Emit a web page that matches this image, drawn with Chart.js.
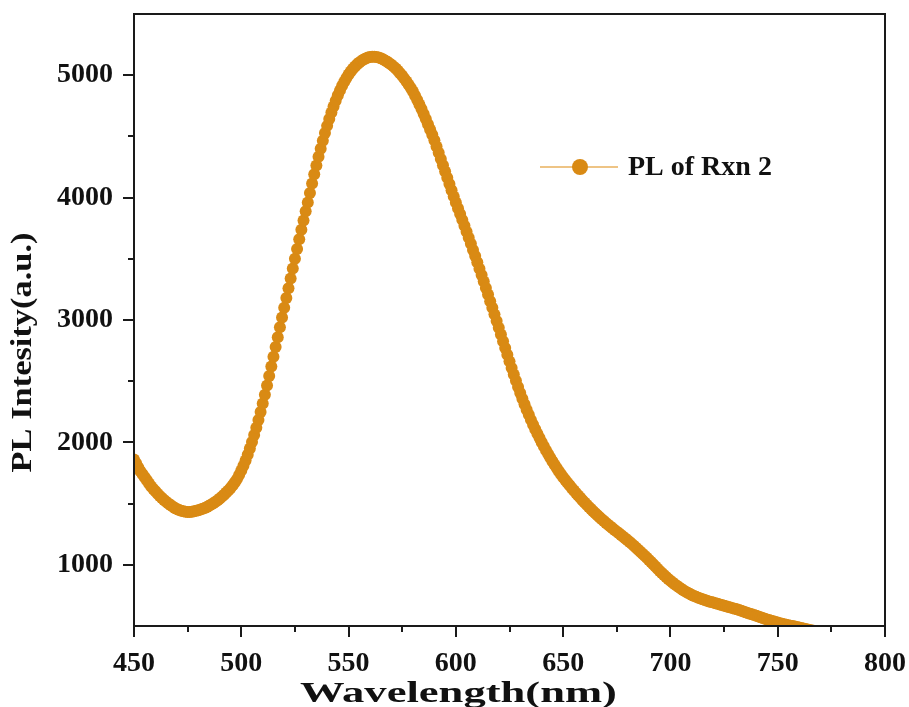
<!DOCTYPE html>
<html>
<head>
<meta charset="utf-8">
<script src="https://cdn.jsdelivr.net/npm/chart.js@4.4.1/dist/chart.umd.min.js"></script>
<style>
  html, body { margin: 0; padding: 0; background: #fff; }
  #plChart { display: block; }
</style>
</head>
<body>
<canvas id="plChart" width="909" height="707"></canvas>
<script>
/* PL spectrum */

const seriesLabel = 'PL of Rxn 2';
const xTitle = 'Wavelength(nm)';
const yTitle = 'PL Intesity(a.u.)';

const xTicks = [450, 500, 550, 600, 650, 700, 750, 800];
const yTicks = [1000, 2000, 3000, 4000, 5000];

const wavelengths = [
    450, 451, 452, 453, 454, 455, 456, 457, 458, 459,
    460, 461, 462, 463, 464, 465, 466, 467, 468, 469,
    470, 471, 472, 473, 474, 475, 476, 477, 478, 479,
    480, 481, 482, 483, 484, 485, 486, 487, 488, 489,
    490, 491, 492, 493, 494, 495, 496, 497, 498, 499,
    500, 501, 502, 503, 504, 505, 506, 507, 508, 509,
    510, 511, 512, 513, 514, 515, 516, 517, 518, 519,
    520, 521, 522, 523, 524, 525, 526, 527, 528, 529,
    530, 531, 532, 533, 534, 535, 536, 537, 538, 539,
    540, 541, 542, 543, 544, 545, 546, 547, 548, 549,
    550, 551, 552, 553, 554, 555, 556, 557, 558, 559,
    560, 561, 562, 563, 564, 565, 566, 567, 568, 569,
    570, 571, 572, 573, 574, 575, 576, 577, 578, 579,
    580, 581, 582, 583, 584, 585, 586, 587, 588, 589,
    590, 591, 592, 593, 594, 595, 596, 597, 598, 599,
    600, 601, 602, 603, 604, 605, 606, 607, 608, 609,
    610, 611, 612, 613, 614, 615, 616, 617, 618, 619,
    620, 621, 622, 623, 624, 625, 626, 627, 628, 629,
    630, 631, 632, 633, 634, 635, 636, 637, 638, 639,
    640, 641, 642, 643, 644, 645, 646, 647, 648, 649,
    650, 651, 652, 653, 654, 655, 656, 657, 658, 659,
    660, 661, 662, 663, 664, 665, 666, 667, 668, 669,
    670, 671, 672, 673, 674, 675, 676, 677, 678, 679,
    680, 681, 682, 683, 684, 685, 686, 687, 688, 689,
    690, 691, 692, 693, 694, 695, 696, 697, 698, 699,
    700, 701, 702, 703, 704, 705, 706, 707, 708, 709,
    710, 711, 712, 713, 714, 715, 716, 717, 718, 719,
    720, 721, 722, 723, 724, 725, 726, 727, 728, 729,
    730, 731, 732, 733, 734, 735, 736, 737, 738, 739,
    740, 741, 742, 743, 744, 745, 746, 747, 748, 749,
    750, 751, 752, 753, 754, 755, 756, 757, 758, 759,
    760, 761, 762, 763, 764, 765, 766, 767, 768, 769,
    770
];

const intensity = [
    1860, 1830, 1795, 1765, 1740, 1715, 1690, 1665, 1640, 1620,
    1600, 1580, 1562, 1545, 1530, 1515, 1500, 1488, 1476, 1465,
    1456, 1448, 1442, 1437, 1434, 1432, 1432, 1434, 1437, 1441,
    1446, 1452, 1458, 1465, 1473, 1482, 1492, 1503, 1515, 1528,
    1542, 1557, 1573, 1590, 1608, 1628, 1650, 1674, 1700, 1734,
    1770, 1810, 1853, 1900, 1950, 2003, 2060, 2120, 2183, 2249,
    2318, 2390, 2465, 2542, 2620, 2700, 2780, 2860, 2940, 3020,
    3100, 3180, 3260, 3340, 3420, 3500, 3580, 3659, 3737, 3813,
    3888, 3960, 4038, 4115, 4190, 4263, 4333, 4400, 4465, 4527,
    4586, 4642, 4695, 4745, 4792, 4836, 4876, 4913, 4947, 4978,
    5006, 5031, 5053, 5072, 5089, 5104, 5117, 5128, 5137, 5144,
    5148, 5150, 5150, 5148, 5144, 5138, 5130, 5121, 5110, 5098,
    5085, 5070, 5054, 5036, 5016, 4995, 4972, 4948, 4922, 4895,
    4866, 4833, 4798, 4761, 4723, 4683, 4642, 4600, 4557, 4513,
    4468, 4418, 4367, 4316, 4265, 4214, 4163, 4112, 4061, 4010,
    3960, 3913, 3866, 3818, 3770, 3721, 3672, 3622, 3572, 3522,
    3471, 3419, 3367, 3314, 3261, 3208, 3154, 3100, 3046, 2991,
    2936, 2881, 2826, 2771, 2716, 2662, 2608, 2555, 2503, 2453,
    2404, 2357, 2311, 2267, 2225, 2184, 2145, 2107, 2070, 2035,
    2001, 1968, 1936, 1905, 1875, 1846, 1818, 1791, 1765, 1740,
    1716, 1693, 1671, 1649, 1628, 1607, 1587, 1567, 1547, 1528,
    1509, 1491, 1473, 1455, 1438, 1421, 1404, 1388, 1372, 1357,
    1342, 1327, 1313, 1299, 1285, 1271, 1257, 1243, 1229, 1215,
    1201, 1186, 1171, 1155, 1139, 1123, 1107, 1090, 1073, 1057,
    1040, 1022, 1004, 986, 968, 950, 933, 916, 900, 884,
    869, 855, 841, 828, 816, 804, 793, 782, 772, 763,
    754, 746, 738, 731, 724, 718, 712, 706, 701, 696,
    691, 686, 681, 676, 671, 666, 661, 656, 651, 646,
    641, 636, 631, 625, 619, 613, 607, 601, 595, 589,
    583, 577, 571, 565, 559, 553, 548, 543, 538, 533,
    528, 523, 519, 515, 511, 507, 503, 499, 495, 491,
    487, 483, 479, 475, 471, 467, 463, 459, 455, 451,
    447
];

const dotColor = '#d98a14';
const joinColor = 'rgba(236, 190, 120, 0.9)';
const axisColor = '#1a1a1a';
const fontFamily = '"Liberation Serif", "Times New Roman", serif';

// draws text squeezed/stretched to a given width (the original uses wide bold titles)
function fillTextWidth(ctx, text, cx, cy, targetW) {
    const w = ctx.measureText(text).width;
    ctx.save();
    ctx.translate(cx, cy);
    ctx.scale(targetW / w, 1);
    ctx.fillText(text, 0, 0);
    ctx.restore();
}

// frame, tick marks, axis titles and legend (Origin-like)
const framePlugin = {
    id: 'originFrame',
    afterDraw(chart) {
        const ctx = chart.ctx;
        const area = chart.chartArea;
        const xs = chart.scales.x;
        const ys = chart.scales.y;

        ctx.save();
        ctx.strokeStyle = axisColor;
        ctx.lineWidth = 2;
        ctx.strokeRect(area.left, area.top, area.right - area.left, area.bottom - area.top);

        ctx.beginPath();
        xTicks.forEach((v, i) => {
            const px = Math.round(xs.getPixelForValue(v));
            ctx.moveTo(px, area.bottom);
            ctx.lineTo(px, area.bottom + 11);
            if (i < xTicks.length - 1) {
                const mid = Math.round(xs.getPixelForValue((v + xTicks[i + 1]) / 2));
                ctx.moveTo(mid, area.bottom);
                ctx.lineTo(mid, area.bottom + 6);
            }
        });
        yTicks.forEach((v, i) => {
            const py = Math.round(ys.getPixelForValue(v));
            ctx.moveTo(area.left, py);
            ctx.lineTo(area.left - 11, py);
            const next = i < yTicks.length - 1 ? yTicks[i + 1] : ys.max + 500;
            const mid = Math.round(ys.getPixelForValue((v + next) / 2));
            if (mid > area.top) {
                ctx.moveTo(area.left, mid);
                ctx.lineTo(area.left - 6, mid);
            }
        });
        ctx.stroke();

        // axis titles
        ctx.fillStyle = '#111';
        ctx.font = 'bold 30px ' + fontFamily;
        ctx.textAlign = 'center';
        ctx.textBaseline = 'alphabetic';
        fillTextWidth(ctx, xTitle, area.left + (area.right - area.left) * 0.432, area.bottom + 76, 317);

        ctx.save();
        ctx.translate(31, area.top + (area.bottom - area.top) * 0.553);
        ctx.rotate(-Math.PI / 2);
        fillTextWidth(ctx, yTitle, 0, 0, 240);
        ctx.restore();

        // legend
        const ds = chart.data.datasets[0];
        const lx = area.left + 406;
        const ly = area.top + 153;
        ctx.strokeStyle = ds.borderColor;
        ctx.lineWidth = 2;
        ctx.beginPath();
        ctx.moveTo(lx, ly);
        ctx.lineTo(lx + 78, ly);
        ctx.stroke();
        ctx.fillStyle = ds.pointBackgroundColor;
        ctx.beginPath();
        ctx.arc(lx + 40, ly, 8, 0, Math.PI * 2);
        ctx.fill();
        ctx.fillStyle = '#111';
        ctx.textAlign = 'left';
        ctx.textBaseline = 'middle';
        ctx.font = 'bold 28px ' + fontFamily;
        ctx.fillText(ds.label, lx + 88, ly + 1);
        ctx.restore();
    }
};

const points = wavelengths.map((w, i) => ({ x: w, y: intensity[i] }));

new Chart(document.getElementById('plChart'), {
    type: 'line',
    data: {
        datasets: [{
            label: seriesLabel,
            data: points,
            borderColor: joinColor,
            borderWidth: 1,
            pointRadius: 6,
            pointBackgroundColor: dotColor,
            pointBorderWidth: 0,
            tension: 0,
            clip: 0
        }]
    },
    options: {
        responsive: false,
        animation: false,
        devicePixelRatio: 1,
        layout: { padding: { top: 14, right: 24, left: 0, bottom: 0 } },
        plugins: {
            legend: { display: false },
            tooltip: { enabled: false }
        },
        scales: {
            x: {
                type: 'linear',
                min: 450,
                max: 800,
                grid: { display: false, drawTicks: false },
                border: { display: false },
                afterBuildTicks: s => { s.ticks = xTicks.map(v => ({ value: v })); },
                afterFit: s => {
                    s.height = 81;
                    s.paddingLeft = 0;
                    s.paddingRight = 0;
                },
                ticks: {
                    color: '#111',
                    padding: 21,
                    maxRotation: 0,
                    callback: v => String(v),
                    font: { family: fontFamily, weight: 'bold', size: 28 }
                }
            },
            y: {
                type: 'linear',
                min: 500,
                max: 5500,
                grid: { display: false, drawTicks: false },
                border: { display: false },
                afterBuildTicks: s => { s.ticks = yTicks.map(v => ({ value: v })); },
                afterFit: s => {
                    s.width = 134;
                    s.paddingTop = 0;
                    s.paddingBottom = 0;
                },
                ticks: {
                    color: '#111',
                    padding: 21,
                    callback: v => String(v),
                    font: { family: fontFamily, weight: 'bold', size: 28 }
                }
            }
        }
    },
    plugins: [framePlugin]
});
</script>
</body>
</html>
